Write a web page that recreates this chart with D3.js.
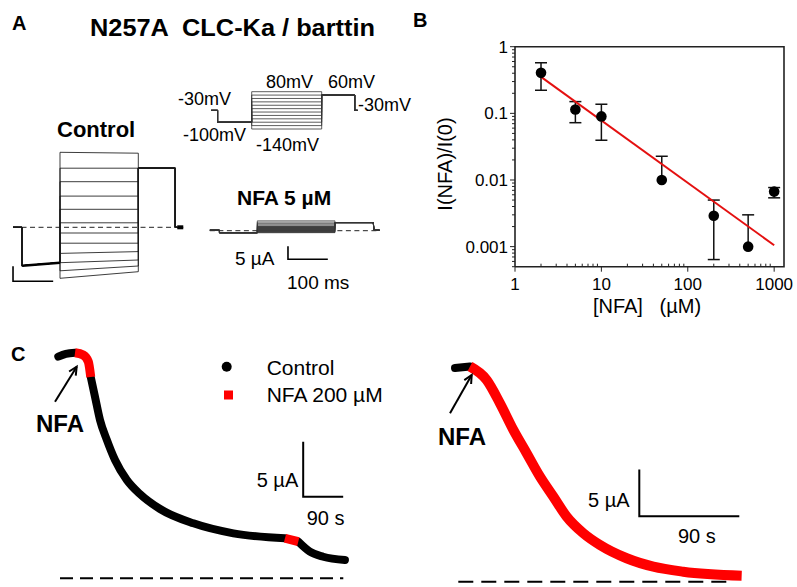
<!DOCTYPE html>
<html><head><meta charset="utf-8">
<script src="https://cdn.jsdelivr.net/npm/d3@7"></script>
<style>
body{margin:0;background:#fff}
svg{display:block}
text{font-family:"Liberation Sans",Arial,Helvetica,sans-serif;fill:#000}
</style>
</head><body>
<svg id="fig" width="797" height="587"></svg>
<script>
// ---------------- DATA ----------------
// Panel A: voltage protocol (ms phase boundaries) and currents (µA)
const phaseTimes = [0, 18, 113, 308, 400];          // hold, prepulse, test, tail, post
const protoVolts = [-30, -100, 60, -30];             // hold, prepulse, tail, post (mV)
const testVolts  = [80, 60, 40, 20, 0, -20, -40, -60, -80, -100, -120, -140];
const ctrlStart  = [25, 19.7, 15.2, 10.4, 6, 1.5, -1.9, -5.3, -8.7, -11.8, -14.5, -17];
const ctrlEnd    = [24.7, 19.7, 15.2, 10.4, 6, 1.5, -1.9, -5.3, -8.1, -10.9, -12.9, -14.8];
const ctrlPre    = [-12.8, -11.8];
const ctrlTail   = 19.7;
const nfaStart   = [3.8, 3.3, 2.8, 2.3, 1.8, 1.3, 0.9, 0.5, 0.1, -0.2, -0.5, -0.8];
const nfaEnd     = [3.8, 3.3, 2.8, 2.3, 1.8, 1.3, 0.9, 0.5, 0.1, -0.2, -0.5, -0.75];
const nfaPre     = [-0.8, -0.8];
const nfaTail    = 3.1;

// Panel B: dose-response
const doseConc  = [2, 5, 10, 50, 200, 500, 1000];
const doseMean  = [0.405, 0.114, 0.090, 0.010, 0.0029, 0.0010, 0.0067];
const doseErrHi = [0.574, 0.150, 0.137, 0.0227, 0.0050, 0.0030, 0.0077];
const doseErrLo = [0.222, 0.0724, 0.0395, null, 0.00064, null, 0.0054];
const fitConc   = [2, 1000];
const fitVal    = [0.353, 0.00105];
const yTicksB   = [1, 0.1, 0.01, 0.001];
const yTickLabB = ["1", "0.1", "0.01", "0.001"];
const xTicksB   = [1, 10, 100, 1000];
const xTickLabB = ["1", "10", "100", "1000"];

// Panel C: time courses (s, µA); cond 0 = Control, 1 = NFA 200 µM (segment starting at point)
const leftTime = [0, 17, 37.6, 56, 67.5, 73, 82.6, 93.8, 109, 127.6, 154, 184, 229, 304, 394, 510, 540, 566, 596, 645];
const leftCurr = [20.15, 20.4, 20.5, 20.3, 19.7, 18.3, 16.5, 14.4, 12.6, 10.75, 8.95, 7.65, 6.3, 5.0, 4.09, 3.64, 3.33, 2.42, 1.96, 1.66];
const leftCond = [0, 0, 1, 1, 1, 0, 0, 0, 0, 0, 0, 0, 0, 0, 0, 1, 0, 0, 0, 0];
const rightTime = [0, 13.5, 28.5, 40.5, 52.5, 64.5, 76.5, 88.5, 100.5, 115.5, 130.5, 154.5, 178.5, 205.5, 258];
const rightCurr = [22.87, 23.04, 21.6, 19.1, 16.26, 13.76, 11.25, 9.11, 6.97, 5.19, 3.93, 2.51, 1.61, 1.07, 0.64];
const rightCond = [0, 1, 1, 1, 1, 1, 1, 1, 1, 1, 1, 1, 1, 1, 1];
const legendLabels = ["Control", "NFA 200 µM"];
const condColor = ["#000000", "#ff0000"];

// ---------------- DRAWING ----------------
const svg = d3.select("#fig");
function txt(x, y, s, size, weight, anchor) {
  return svg.append("text").attr("x", x).attr("y", y).text(s)
    .attr("font-size", size).attr("font-weight", weight || "normal")
    .attr("text-anchor", anchor || "start").style("white-space", "pre");
}

// Panel letters
txt(12, 30, "A", 20, "bold");
txt(413, 27, "B", 20, "bold");
txt(11, 361, "C", 20, "bold");

// ===== Panel A =====
txt(90, 36, "N257A  CLC-Ka / barttin", 23, "bold").attr("textLength", 285).attr("lengthAdjust", "spacingAndGlyphs");

// Voltage protocol
const px = d3.scaleLinear().domain([113, 308]).range([251.7, 321.7]);
const pv = d3.scaleLinear().domain([80, -140]).range([91.7, 129]);
const lineP = d3.line().x(d => px(d[0])).y(d => pv(d[1]));
testVolts.forEach(v => {
  const pts = [[0, protoVolts[0]], [phaseTimes[1], protoVolts[0]], [phaseTimes[1], protoVolts[1]],
    [phaseTimes[2], protoVolts[1]], [phaseTimes[2], v], [phaseTimes[3], v], [phaseTimes[3], protoVolts[2]],
    [phaseTimes[4], protoVolts[2]], [phaseTimes[4], protoVolts[3]], [408, protoVolts[3]]];
  svg.append("path").attr("d", lineP(pts)).attr("fill", "none").attr("stroke", "#333").attr("stroke-width", 0.8);
});
txt(178, 105, "-30mV", 18);
txt(183, 141, "-100mV", 18);
txt(266, 88, "80mV", 18);
txt(328, 88, "60mV", 18);
txt(358, 111, "-30mV", 18);
txt(256, 151, "-140mV", 18);

// Control currents
txt(57, 137, "Control", 22, "bold");
const cx = d3.scaleLinear().domain([113, 308]).range([60, 138.3]);
const cy = d3.scaleLinear().domain([0, 5]).range([227.3, 212.3]);
const lineC = d3.line().x(d => cx(d[0])).y(d => cy(d[1]));
svg.append("line").attr("x1", cx(-4)).attr("x2", cx(420)).attr("y1", cy(0)).attr("y2", cy(0))
  .attr("stroke", "#222").attr("stroke-width", 1).attr("stroke-dasharray", "5,3.5");
ctrlStart.forEach((s, i) => {
  const pts = [[-4, 0], [phaseTimes[1], 0], [phaseTimes[1], ctrlPre[0]], [phaseTimes[2], ctrlPre[1]],
    [phaseTimes[2], s], [phaseTimes[3], ctrlEnd[i]], [phaseTimes[3], ctrlTail], [phaseTimes[4], ctrlTail],
    [phaseTimes[4], 0], [405, 0]];
  svg.append("path").attr("d", lineC(pts)).attr("fill", "none").attr("stroke", "#1a1a1a").attr("stroke-width", 0.85);
});
svg.append("path").attr("d", lineC([[phaseTimes[1] + 1, ctrlPre[0]], [phaseTimes[2], ctrlPre[1]]]))
  .attr("fill", "none").attr("stroke", "#000").attr("stroke-width", 2.6);
svg.append("path").attr("d", lineC([[405, 0], [420, 0]])).attr("stroke", "#000").attr("stroke-width", 4);
// unlabeled scale bar (5 µA / 100 ms)
svg.append("path").attr("d", `M${cx(-4)},${cy(-13)}V${cy(-18)}H${cx(96)}`)
  .attr("fill", "none").attr("stroke", "#000").attr("stroke-width", 1.6);

// NFA 5 µM currents
txt(237, 205, "NFA 5 µM", 21, "bold");
const nx = d3.scaleLinear().domain([113, 308]).range([257.3, 335]);
const ny = d3.scaleLinear().domain([0, 5]).range([230.7, 217.7]);
const lineN = d3.line().x(d => nx(d[0])).y(d => ny(d[1]));
svg.append("line").attr("x1", nx(-6)).attr("x2", nx(420)).attr("y1", ny(0)).attr("y2", ny(0))
  .attr("stroke", "#222").attr("stroke-width", 1).attr("stroke-dasharray", "5,3.5");
svg.append("rect").attr("x", nx(113)).attr("y", ny(1.9)).attr("width", nx(308) - nx(113)).attr("height", ny(-0.8) - ny(1.9))
  .attr("fill", "#555");
nfaStart.forEach((s, i) => {
  const pts = [[-6, 0.2], [phaseTimes[1], 0.2], [phaseTimes[1], nfaPre[0]], [phaseTimes[2], nfaPre[1]],
    [phaseTimes[2], s], [phaseTimes[3], nfaEnd[i]], [phaseTimes[3], nfaTail], [phaseTimes[4] + 4, nfaTail],
    [phaseTimes[4] + 6, 0.2], [420, 0.2]];
  svg.append("path").attr("d", lineN(pts)).attr("fill", "none").attr("stroke", "#333").attr("stroke-width", 0.7);
});
// scale bar 5 µA / 100 ms
svg.append("path").attr("d", `M${nx(190)},${ny(-6)}V${ny(-11)}H${nx(290)}`)
  .attr("fill", "none").attr("stroke", "#000").attr("stroke-width", 1.6);
txt(235, 265, "5 µA", 19);
txt(287, 289, "100 ms", 19);

// ===== Panel B =====
const bx = d3.scaleLog().domain([1, 1300]).range([515, 784]);
const by = d3.scaleLog().domain([5e-4, 1]).range([266.7, 46.7]);
const gB = svg.append("g");
gB.append("path").attr("d", `M${bx(1)},${by(5e-4)}V${by(1)}H${bx(1300)}V${by(5e-4)}H${bx(1)}`)
  .attr("fill", "none").attr("stroke", "#222").attr("stroke-width", 1.6);
for (let e = -4; e <= 0; e++) {
  for (let m = 1; m <= 9; m++) {
    const v = m * Math.pow(10, e);
    if (v < 5e-4 - 1e-12 || v > 1 + 1e-9) continue;
    const len = m === 1 ? 5 : 3;
    gB.append("line").attr("x1", bx(1) - len).attr("x2", bx(1)).attr("y1", by(v)).attr("y2", by(v))
      .attr("stroke", "#222").attr("stroke-width", 1);
  }
}
yTicksB.forEach((v, i) => txt(508, by(v) + 6, yTickLabB[i], 17, "normal", "end"));
for (let e = 0; e <= 3; e++) {
  for (let m = 1; m <= 9; m++) {
    const v = m * Math.pow(10, e);
    if (v > 1300) continue;
    if (m === 1) {
      gB.append("line").attr("x1", bx(v)).attr("x2", bx(v)).attr("y1", by(5e-4)).attr("y2", by(5e-4) + 5)
        .attr("stroke", "#222").attr("stroke-width", 1);
    } else {
      gB.append("line").attr("x1", bx(v)).attr("x2", bx(v)).attr("y1", by(5e-4) - 3).attr("y2", by(5e-4))
        .attr("stroke", "#222").attr("stroke-width", 1);
    }
  }
}
xTicksB.forEach((v, i) => txt(bx(v), 290, xTickLabB[i], 17, "normal", "middle"));
txt(647, 313, "[NFA]   (µM)", 20, "normal", "middle");
svg.append("text").attr("transform", "translate(452,164) rotate(-90)").attr("text-anchor", "middle")
  .attr("font-size", 20).text("I(NFA)/I(0)");
doseConc.forEach((c, i) => {
  const lo = doseErrLo[i] == null ? doseMean[i] : doseErrLo[i];
  gB.append("line").attr("x1", bx(c)).attr("x2", bx(c)).attr("y1", by(lo)).attr("y2", by(doseErrHi[i]))
    .attr("stroke", "#111").attr("stroke-width", 1.5);
  gB.append("line").attr("x1", bx(c) - 6).attr("x2", bx(c) + 6).attr("y1", by(doseErrHi[i])).attr("y2", by(doseErrHi[i]))
    .attr("stroke", "#111").attr("stroke-width", 1.5);
  if (doseErrLo[i] != null)
    gB.append("line").attr("x1", bx(c) - 6).attr("x2", bx(c) + 6).attr("y1", by(doseErrLo[i])).attr("y2", by(doseErrLo[i]))
      .attr("stroke", "#111").attr("stroke-width", 1.5);
});
gB.append("path").attr("d", d3.line().x((d, i) => bx(fitConc[i])).y((d, i) => by(fitVal[i]))(fitConc))
  .attr("stroke", "#e41010").attr("stroke-width", 2).attr("fill", "none");
doseConc.forEach((c, i) => {
  gB.append("circle").attr("cx", bx(c)).attr("cy", by(doseMean[i])).attr("r", 5.3).attr("fill", "#000");
});

// ===== Panel C =====
function drawTrace(times, curr, cond, xs, ys, wBlack, wRed) {
  const pts = times.map((t, i) => [xs(t), ys(curr[i])]);
  const segs = [];
  let cur = null;
  for (let i = 0; i < pts.length - 1; i++) {
    if (!cur || cur.c !== cond[i]) { cur = { c: cond[i], p: [pts[i]] }; segs.push(cur); }
    cur.p.push(pts[i + 1]);
  }
  const ln = d3.line().curve(d3.curveMonotoneX);
  segs.filter(s => s.c === 0).forEach(s => svg.append("path").attr("d", ln(s.p)).attr("fill", "none")
    .attr("stroke", condColor[0]).attr("stroke-width", wBlack).attr("stroke-linecap", "round").attr("stroke-linejoin", "round"));
  segs.filter(s => s.c === 1).forEach(s => svg.append("path").attr("d", ln(s.p)).attr("fill", "none")
    .attr("stroke", condColor[1]).attr("stroke-width", wRed).attr("stroke-linecap", "butt").attr("stroke-linejoin", "round"));
}
function arrow(x1, y1, x2, y2) {
  const a = Math.atan2(y2 - y1, x2 - x1), L = 9, s = 0.45;
  svg.append("line").attr("x1", x1).attr("y1", y1).attr("x2", x2).attr("y2", y2).attr("stroke", "#000").attr("stroke-width", 2);
  svg.append("path").attr("d", `M${x2 - L * Math.cos(a - s)},${y2 - L * Math.sin(a - s)}L${x2},${y2}L${x2 - L * Math.cos(a + s)},${y2 - L * Math.sin(a + s)}`)
    .attr("fill", "none").attr("stroke", "#000").attr("stroke-width", 2);
}

// left
const lx = d3.scaleLinear().domain([0, 90]).range([58.3, 58.3 + 40]);
const ly = d3.scaleLinear().domain([0, 5]).range([578.3, 523.3]);
svg.append("line").attr("x1", 60).attr("x2", 343.3).attr("y1", ly(0)).attr("y2", ly(0))
  .attr("stroke", "#000").attr("stroke-width", 2).attr("stroke-dasharray", "13,7");
drawTrace(leftTime, leftCurr, leftCond, lx, ly, 8, 9);
svg.append("path").attr("d", `M${lx(551)},${ly(12.42)}V${ly(7.42)}H${lx(641)}`).attr("fill", "none").attr("stroke", "#000").attr("stroke-width", 2);
txt(256.7, 486.7, "5 µA", 20);
txt(306.7, 525, "90 s", 20);
arrow(55, 401.7, 76.7, 366.7);
txt(36, 432, "NFA", 24, "bold");
svg.append("circle").attr("cx", 226.7).attr("cy", 366.7).attr("r", 5).attr("fill", condColor[0]);
svg.append("rect").attr("x", 224).attr("y", 390.5).attr("width", 9).attr("height", 9).attr("fill", condColor[1]);
txt(266.7, 375, legendLabels[0], 21);
txt(266.7, 402, legendLabels[1], 21);

// right
const rx = d3.scaleLinear().domain([0, 90]).range([455, 555]);
const ry = d3.scaleLinear().domain([0, 5]).range([581.7, 535]);
svg.append("line").attr("x1", 458.3).attr("x2", 733.3).attr("y1", ry(0)).attr("y2", ry(0))
  .attr("stroke", "#000").attr("stroke-width", 2).attr("stroke-dasharray", "15,8");
drawTrace(rightTime, rightCurr, rightCond, rx, ry, 8, 10);
svg.append("path").attr("d", `M639.3,${ry(12.0)}V${ry(7.0)}H739.3`).attr("fill", "none").attr("stroke", "#000").attr("stroke-width", 2);
txt(588, 506.7, "5 µA", 20);
txt(678, 543.3, "90 s", 20);
arrow(450, 413.3, 471.7, 375);
txt(438, 445, "NFA", 24, "bold");
</script>
</body></html>
